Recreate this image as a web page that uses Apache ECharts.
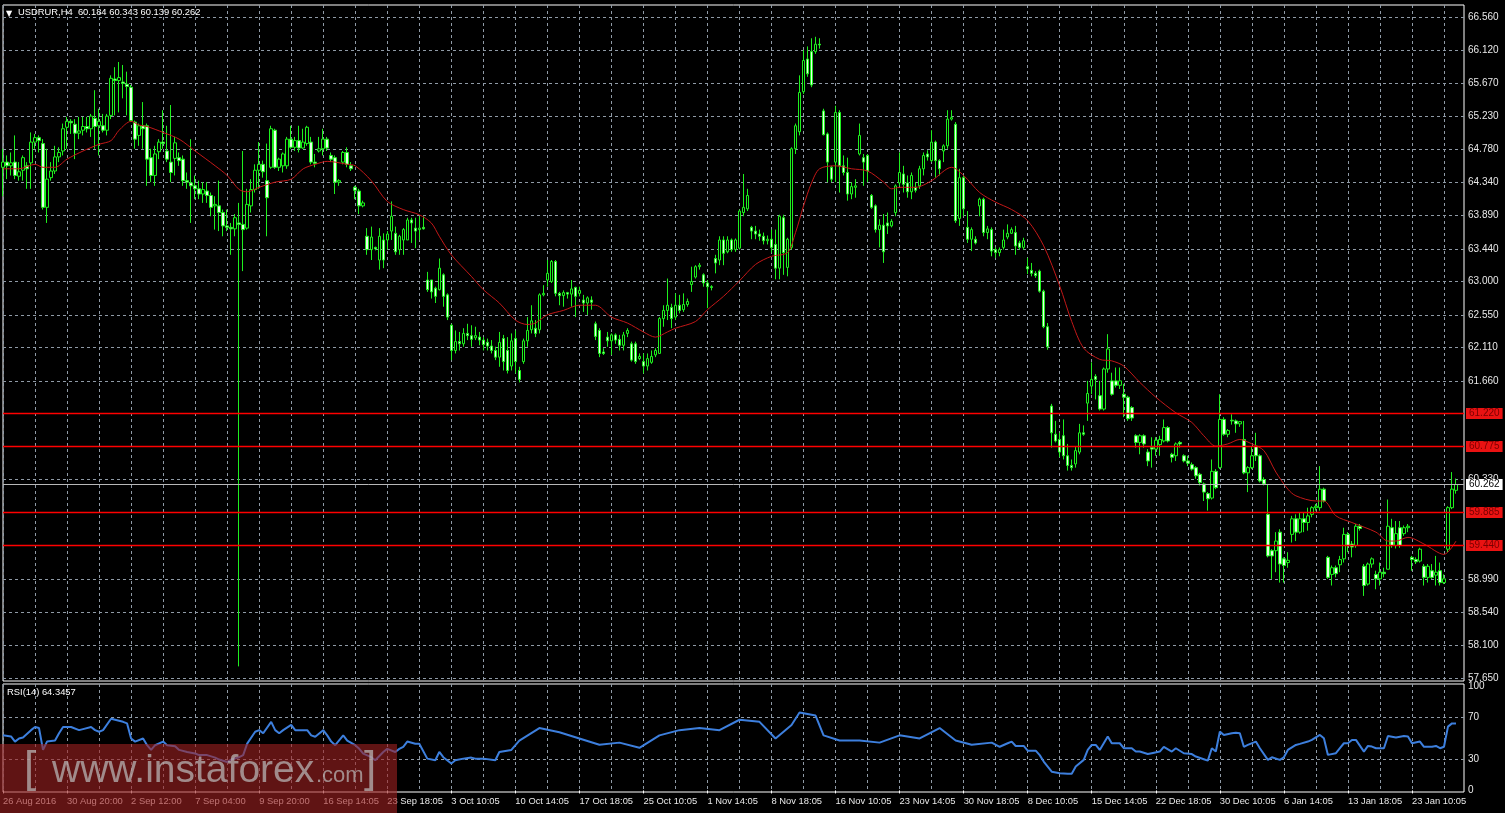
<!DOCTYPE html>
<html><head><meta charset="utf-8">
<script src="https://cdn.jsdelivr.net/npm/echarts@6/dist/echarts.min.js"></script>
<style>html,body{margin:0;padding:0;background:#000;}#c{width:1505px;height:813px;}</style>
</head><body><div id="c"></div>
<script>
const headerText = 'USDRUR,H4  60.184 60.343 60.139 60.262';
const rsiTitle = 'RSI(14) 64.3457';
// candles: [open, close, low, high]
const candles = [
[64.54,64.61,64.15,64.79],[64.61,64.56,64.38,64.70],[64.56,64.60,64.43,64.74],[64.61,64.43,64.38,64.97],[64.42,64.48,64.36,64.61],[64.50,64.67,64.36,64.70],[64.56,64.52,64.25,64.61],[64.60,64.88,64.25,65.01],
[64.88,64.94,64.79,64.99],[64.94,64.90,64.74,64.97],[64.86,64.00,63.97,64.92],[64.00,64.38,63.79,64.79],[64.40,64.49,64.36,64.61],[64.49,64.68,64.45,64.83],[64.68,64.74,64.61,64.81],[64.76,65.06,64.70,65.13],
[65.08,65.16,64.79,65.22],[65.16,65.14,64.99,65.19],[65.12,65.00,64.65,65.19],[65.00,65.03,64.92,65.22],[65.04,65.09,64.97,65.22],[65.09,65.06,65.01,65.22],[65.06,65.23,64.95,65.26],[65.20,65.09,64.79,65.58],
[65.10,65.16,64.70,65.33],[65.10,65.04,65.01,65.26],[65.04,65.23,64.97,65.26],[65.24,65.74,65.19,65.78],[65.73,65.71,65.24,65.89],[65.71,65.75,65.28,65.96],[65.69,65.67,65.47,65.92],[65.66,65.63,65.24,65.83],
[65.62,65.17,65.15,65.65],[65.15,64.92,64.79,65.17],[64.97,65.10,64.83,65.13],[65.10,65.06,64.79,65.42],[65.10,64.65,64.29,65.13],[64.67,64.43,64.34,64.79],[64.43,64.72,64.29,64.83],[64.75,64.88,64.65,64.92],
[64.88,64.86,64.79,65.31],[64.76,64.65,64.61,65.10],[64.61,64.47,64.34,65.38],[64.66,64.87,64.43,64.95],[64.67,64.63,64.56,64.74],[64.65,64.36,64.29,64.70],[64.36,64.34,64.25,64.47],[64.33,64.29,63.79,64.92],
[64.29,64.25,64.11,64.43],[64.25,64.18,64.11,64.36],[64.18,64.24,64.06,64.34],[64.22,64.16,64.06,64.34],[64.16,64.00,63.88,64.20],[64.02,64.04,63.70,64.15],[64.02,63.93,63.68,64.36],[63.93,63.75,63.61,63.97],
[63.75,63.73,63.68,63.97],[63.73,63.71,63.36,63.79],[63.71,63.86,63.61,63.91],[63.79,63.77,57.81,64.06],[63.77,63.70,63.14,64.76],[63.72,64.04,63.70,64.25],[64.02,64.24,63.93,64.38],[64.24,64.50,64.20,64.58],
[64.50,64.58,64.25,64.88],[64.58,64.48,64.40,64.63],[64.36,64.13,63.61,64.86],[64.54,65.06,64.52,65.10],[65.04,64.54,64.52,65.06],[64.54,64.65,64.49,64.67],[64.56,64.72,64.47,64.74],[64.56,64.92,64.52,64.95],
[64.92,64.81,64.79,65.10],[64.81,64.90,64.76,64.95],[64.90,64.80,64.74,65.10],[64.80,64.88,64.79,65.06],[64.86,65.08,64.83,65.10],[64.88,64.61,64.58,64.95],[64.61,64.59,64.54,64.72],[64.76,64.79,64.74,64.95],
[64.79,64.92,64.70,65.06],[64.92,64.80,64.76,64.95],[64.70,64.65,64.61,64.74],[64.67,64.34,64.18,64.70],[64.34,64.36,64.29,64.38],[64.61,64.74,64.58,64.76],[64.74,64.58,64.54,64.81],[64.56,64.52,64.49,64.61],
[64.27,64.23,64.11,64.29],[64.22,64.02,63.91,64.25],[64.02,64.06,64.00,64.09],[63.61,63.43,63.36,63.72],[63.43,63.60,63.29,63.74],[63.46,63.44,63.42,63.47],[63.29,63.61,63.16,63.72],[63.56,63.29,63.18,63.65],
[63.56,63.64,63.43,63.68],[63.68,63.88,63.56,64.08],[63.65,63.40,63.36,63.74],[63.43,63.61,63.36,63.63],[63.56,63.70,63.36,63.72],[63.56,63.83,63.56,63.86],[63.83,63.79,63.52,63.86],[63.72,63.68,63.45,63.86],
[63.70,63.72,63.56,63.88],[63.73,63.71,63.70,63.88],[63.02,62.89,62.86,63.13],[63.02,62.86,62.77,63.02],[62.91,62.80,62.71,62.93],[62.89,63.18,62.88,63.31],[63.09,62.80,62.66,63.11],[62.82,62.52,62.48,62.84],
[62.41,62.07,61.94,62.43],[62.07,62.19,62.03,62.34],[62.19,62.16,62.07,62.32],[62.16,62.30,62.12,62.37],[62.30,62.27,62.21,62.43],[62.27,62.22,62.12,62.41],[62.24,62.27,62.21,62.39],[62.25,62.21,62.14,62.32],
[62.21,62.15,62.07,62.25],[62.18,62.13,62.07,62.23],[62.13,62.07,62.03,62.21],[62.07,61.98,61.94,62.12],[61.98,62.18,61.85,62.32],[62.23,61.92,61.80,62.28],[62.07,61.80,61.76,62.25],[61.86,62.20,61.80,62.30],
[62.23,61.92,61.76,62.34],[61.80,61.68,61.64,61.85],[61.92,62.20,61.89,62.23],[62.20,62.34,62.12,62.52],[62.35,62.47,62.30,62.68],[62.37,62.30,62.25,62.48],[62.35,62.82,62.30,62.84],[62.82,62.84,62.80,62.95],
[63.02,63.11,62.93,63.29],[63.00,63.27,62.98,63.29],[63.27,62.84,62.80,63.29],[62.84,62.81,62.68,62.86],[62.81,62.85,62.66,62.88],[62.85,62.83,62.77,62.86],[62.83,62.90,62.66,63.02],[62.92,62.80,62.52,62.93],
[62.84,62.88,62.80,62.93],[62.75,62.71,62.59,62.82],[62.71,62.78,62.55,62.80],[62.75,62.72,62.62,62.80],[62.43,62.26,62.21,62.46],[62.34,62.03,61.98,62.37],[62.05,62.03,62.01,62.10],[62.25,62.20,62.12,62.32],
[62.20,62.28,62.01,62.30],[62.28,62.21,62.16,62.30],[62.22,62.14,62.07,62.28],[62.14,62.28,62.07,62.32],[62.30,62.34,62.25,62.37],[62.16,61.94,61.92,62.19],[62.16,61.92,61.89,62.19],[61.96,61.99,61.94,62.03],
[61.92,61.86,61.76,62.03],[61.86,61.96,61.80,62.03],[61.91,61.99,61.89,62.07],[62.01,62.07,61.98,62.10],[62.03,62.50,62.03,62.52],[62.50,62.61,62.39,62.68],[62.61,62.68,62.48,63.04],[62.65,62.50,62.37,62.70],
[62.52,62.68,62.48,62.84],[62.68,62.61,62.57,62.82],[62.62,62.69,62.59,62.84],[62.69,62.73,62.66,62.77],[62.96,63.00,62.86,63.20],[63.06,63.20,63.04,63.22],[63.20,63.22,63.16,63.25],[63.09,62.98,62.93,63.11],
[62.98,62.93,62.64,63.02],[62.93,62.92,62.88,62.95],[63.31,63.25,63.11,63.36],[63.29,63.56,63.22,63.61],[63.56,63.38,63.22,63.61],[63.40,63.56,63.38,63.61],[63.56,63.43,63.40,63.58],[63.43,63.56,63.40,63.58],
[63.45,63.95,63.43,63.97],[63.93,64.00,63.88,64.45],[63.98,64.16,63.95,64.25],[63.73,63.68,63.57,63.75],[63.68,63.64,63.57,63.75],[63.64,63.61,63.55,63.70],[63.61,63.55,63.50,63.66],[63.55,63.57,63.50,63.62],
[63.57,63.46,63.39,63.70],[63.50,63.18,63.03,63.70],[63.18,63.88,63.03,63.90],[63.86,63.39,63.09,63.90],[63.19,63.57,63.07,63.59],[63.46,64.79,63.43,64.81],[64.79,65.10,64.72,65.13],[65.02,65.55,64.97,65.78],
[65.56,65.98,65.53,66.12],[66.00,65.80,65.76,66.17],[66.10,65.65,65.62,66.28],[66.10,66.20,66.07,66.30],[66.20,66.19,66.14,66.28],[65.30,64.98,64.97,65.33],[64.99,64.61,64.34,65.01],[64.54,64.38,64.34,64.56],
[64.61,65.28,64.34,65.37],[65.28,64.56,64.20,65.31],[64.56,64.47,64.43,64.70],[64.47,64.18,64.09,64.67],[64.18,64.28,64.11,64.34],[64.27,64.29,64.13,64.38],[64.72,64.97,64.70,65.13],[64.67,64.61,64.29,64.72],
[64.70,64.49,64.34,64.72],[64.16,64.00,63.98,64.18],[64.02,63.70,63.66,64.04],[63.70,63.76,63.46,63.84],[63.76,63.40,63.25,63.91],[63.79,63.75,63.64,63.93],[63.75,63.81,63.73,63.84],[63.93,64.29,63.88,64.31],
[64.33,64.47,64.29,64.74],[64.45,64.31,64.20,64.56],[64.33,64.21,64.13,64.43],[64.21,64.43,64.11,64.47],[64.27,64.23,64.20,64.34],[64.29,64.52,64.25,64.56],[64.52,64.70,64.43,64.74],[64.72,64.68,64.63,64.77],
[64.63,64.88,64.61,65.04],[64.88,64.63,64.40,64.90],[64.63,64.52,64.43,64.65],[64.76,64.83,64.61,64.85],[64.83,65.19,64.79,65.31],[65.19,65.21,65.17,65.31],[65.12,63.82,63.79,65.15],[63.85,64.40,63.75,64.52],
[64.40,63.98,63.88,64.43],[63.73,63.57,63.52,63.95],[63.57,63.70,63.41,63.73],[63.57,63.52,63.50,63.61],[64.02,64.11,63.88,64.13],[64.11,63.66,63.61,64.13],[63.66,63.71,63.57,63.75],[63.70,63.41,63.34,63.73],
[63.43,63.39,63.32,63.46],[63.39,63.43,63.34,63.46],[63.46,63.56,63.43,63.70],[63.60,63.65,63.57,63.77],[63.65,63.70,63.64,63.73],[63.66,63.48,63.36,63.75],[63.52,63.46,63.43,63.55],[63.46,63.55,63.43,63.59],
[63.20,63.17,63.10,63.32],[63.15,63.11,63.07,63.25],[63.11,63.08,63.05,63.14],[63.14,62.87,62.85,63.16],[62.87,62.39,62.37,62.89],[62.39,62.12,62.08,62.44],[61.32,60.96,60.76,61.35],[60.94,60.85,60.83,61.12],
[60.87,60.70,60.63,60.96],[60.92,60.65,60.60,61.14],[60.65,60.52,60.45,60.81],[60.52,60.49,60.45,60.60],[60.54,60.72,60.49,60.78],[60.70,60.96,60.67,61.08],[60.96,60.94,60.92,61.06],[61.36,61.49,61.12,61.66],
[61.59,61.68,61.48,61.91],[61.72,61.68,61.41,61.75],[61.46,61.28,61.26,61.66],[61.28,61.82,61.26,61.84],[61.82,62.09,61.77,62.29],[61.66,61.48,61.46,61.77],[61.66,61.60,61.57,61.84],[61.60,61.66,61.55,61.84],
[61.48,61.44,61.17,61.62],[61.44,61.15,61.12,61.46],[61.30,61.16,61.12,61.32],[60.92,60.83,60.76,60.94],[60.83,60.92,60.67,60.94],[60.92,60.81,60.76,60.94],[60.70,60.58,60.51,60.74],[60.76,60.74,60.49,60.90],
[60.74,60.86,60.65,60.90],[60.80,60.87,60.65,60.92],[60.85,61.03,60.83,61.14],[61.03,60.85,60.83,61.05],[60.67,60.63,60.56,60.69],[60.65,60.81,60.58,60.83],[60.83,60.81,60.76,60.85],[60.65,60.58,60.56,60.67],
[60.58,60.55,60.51,60.65],[60.53,60.47,60.45,60.56],[60.49,60.38,60.34,60.51],[60.40,60.29,60.25,60.42],[60.27,60.16,60.04,60.29],[60.14,60.07,59.91,60.16],[60.08,60.44,60.06,60.60],[60.44,60.22,60.20,60.47],
[60.49,61.14,60.47,61.48],[61.14,60.94,60.92,61.17],[60.94,60.99,60.90,61.01],[61.13,61.12,61.07,61.21],[61.12,61.08,60.96,61.14],[61.08,61.11,61.04,61.12],[60.87,60.42,60.40,61.12],[60.42,60.49,60.16,60.51],
[60.49,60.65,60.47,60.78],[60.78,60.65,60.58,60.96],[60.65,60.31,60.29,60.67],[60.33,60.27,60.25,60.36],[59.86,59.30,59.28,60.27],[59.37,59.30,58.99,59.39],[59.37,59.50,59.08,59.62],[59.62,59.19,58.94,59.66],
[59.26,59.17,58.94,59.28],[59.21,59.24,59.14,59.35],[59.59,59.80,59.48,59.84],[59.80,59.62,59.50,59.86],[59.62,59.80,59.60,59.89],[59.80,59.75,59.62,59.89],[59.75,59.84,59.64,59.95],[59.86,59.95,59.82,59.97],
[59.95,59.97,59.91,60.00],[59.95,60.20,59.91,60.51],[60.20,60.04,60.02,60.22],[59.28,59.01,58.99,59.30],[59.05,59.14,58.90,59.17],[59.14,59.06,59.01,59.17],[59.18,59.25,59.08,59.30],[59.26,59.59,59.21,59.68],
[59.59,59.44,59.35,59.62],[59.46,59.42,59.28,59.50],[59.44,59.70,59.41,59.73],[59.70,59.67,59.64,59.73],[59.16,58.90,58.76,59.19],[58.92,59.19,58.90,59.21],[59.19,59.26,59.14,59.28],[59.05,58.99,58.85,59.10],
[58.99,59.08,58.90,59.21],[59.08,59.06,59.01,59.14],[59.12,59.70,59.12,60.06],[59.68,59.44,59.41,59.80],[59.44,59.60,59.40,59.77],[59.68,59.44,59.41,59.77],[59.60,59.68,59.57,59.71],[59.68,59.70,59.62,59.73],
[59.28,59.25,59.10,59.30],[59.25,59.22,59.19,59.28],[59.23,59.39,59.21,59.41],[59.16,59.01,58.90,59.19],[59.01,59.16,58.94,59.19],[59.10,59.01,58.99,59.19],[59.04,59.08,58.90,59.30],[59.10,58.94,58.90,59.21],
[58.94,58.99,58.92,59.05],[59.39,59.95,59.35,59.97],[59.95,60.20,59.93,60.43],[60.184,60.262,60.139,60.343]
];
// moving average, read at these bar positions
const maBars = [0,4,8,10,13,16,20,24,27,29,32,34,36,40,44,48,53,56,59,61,64,68,72,75,78,81,83,86,88,92,96,100,104,107,109,112,117,120,124,128,131,133,136,140,144,148,152,156,160,163,166,168,173,176,180,184,188,192,196,198,200,202,204,208,212,216,220,222,224,228,232,237,240,244,248,252,256,260,264,267,270,274,277,280,284,288,293,297,300,303,306,309,312,315,318,321,323,328,330,333,337,343,346,348,351,355,360,363];
const maVals = [64.52,64.52,64.58,64.54,64.54,64.65,64.76,64.85,64.90,65.04,65.16,65.11,65.09,65.01,64.92,64.76,64.56,64.43,64.24,64.21,64.27,64.34,64.38,64.52,64.58,64.62,64.61,64.58,64.56,64.36,64.08,63.97,63.90,63.79,63.61,63.36,63.07,62.89,62.71,62.48,62.42,62.44,62.55,62.61,62.68,62.68,62.52,62.44,62.32,62.25,62.32,62.37,62.46,62.62,62.80,63.01,63.23,63.34,63.39,63.66,64.02,64.33,64.52,64.56,64.52,64.49,64.34,64.25,64.27,64.27,64.36,64.54,64.43,64.20,64.07,63.97,63.82,63.48,62.94,62.46,62.10,61.95,61.93,61.86,61.64,61.44,61.23,61.10,60.92,60.78,60.81,60.87,60.81,60.72,60.43,60.20,60.11,60.04,60.04,59.84,59.75,59.62,59.50,59.50,59.55,59.46,59.32,59.50];
// RSI(14), read at these bar positions
const rsiBars = [0,2,3,4,5,7,8,9,10,11,13,14,15,17,19,20,22,23,24,25,27,28,30,31,32,33,35,36,37,38,40,41,43,44,46,48,49,51,53,54,56,57,59,60,61,63,64,65,67,68,69,70,72,73,75,76,77,78,80,81,82,83,85,86,88,89,90,92,93,95,96,98,99,100,101,103,104,106,108,109,110,112,113,115,117,118,120,123,124,127,129,134,139,144,149,154,159,164,169,174,179,184,189,193,197,199,203,205,209,214,219,224,229,234,238,242,247,249,251,252,253,255,256,258,259,260,262,264,266,267,268,270,271,272,273,274,276,277,279,280,282,283,284,286,287,289,290,292,293,295,297,298,300,301,302,303,304,305,307,308,309,310,311,313,314,316,317,319,320,321,323,324,326,327,329,330,331,333,334,335,336,337,338,340,341,342,343,345,346,348,350,351,352,354,355,357,358,359,360,361,362,363];
const rsiVals = [53,52,47,50,51,58,61,60,39,47,48,55,61,61,58,59,61,58,56.5,58,69,68,66,64.5,50,47,50,43.5,39,43.5,47,43.5,42.6,39,37,35.5,34,34,31.6,29.7,27.4,29.7,32,34,45,56.5,58,55,66,58,55,58,63,58,58,58,53,51.6,58,53,47,43.5,53,48,43.5,40,35.5,32,29,37,40,37,40,42,47,45,45,30.6,29,37,32,26,29,30.6,31.6,30.6,30.6,29,37,39,48,60,56,50,44,46,41,53,58,60,58,68,66,50,63,75,72,53,48,48,46,53,50,60,48,44,46,42,45.4,47,42.8,42.8,38.3,38.3,34,27.8,18,16.6,16,16,23,29.4,39,43.8,43.8,39,51.8,45.4,45.4,40.6,40.6,37.4,37.4,35,35.8,37.4,42,37.4,40.6,35.8,35,32.6,30,28.7,40.6,37.4,56.6,53.4,55,55.6,55,42,43.8,47,40.6,29.4,31.9,29.4,31.9,39,43.8,44.8,47,48.6,53.4,50.2,34.2,35.8,40.6,45.4,45.4,48.6,48.6,37.4,42.8,42.2,40.6,40.6,52.4,51,52.4,51.8,45.4,47,42,42,42.8,40.6,42,61.4,64.5,64.35];
const priceTicks = [57.650,58.100,58.540,58.990,59.440,59.885,60.330,60.775,61.220,61.660,62.110,62.550,63.000,63.440,63.890,64.340,64.780,65.230,65.670,66.120,66.560];
const rsiTicks = [0,30,70,100];
const rsiLevels = [30,70];
const levelLines = [61.220,60.775,59.885,59.440];
const bidPrice = 60.262;
const xTickLabels = ['26 Aug 2016','30 Aug 20:00','2 Sep 12:00','7 Sep 04:00','9 Sep 20:00','16 Sep 14:05','23 Sep 18:05','3 Oct 10:05','10 Oct 14:05','17 Oct 18:05','25 Oct 10:05','1 Nov 14:05','8 Nov 18:05','16 Nov 10:05','23 Nov 14:05','30 Nov 18:05','8 Dec 10:05','15 Dec 14:05','22 Dec 18:05','30 Dec 10:05','6 Jan 14:05','13 Jan 18:05','23 Jan 10:05'];
const SLOTS = 366;
const categories = Array.from({length: SLOTS}, (_, i) => String(i));
// price-scale ticks not hidden under a red level line (those show their value in the red box instead)
const gridTicks = priceTicks.filter((v) => !levelLines.includes(v));

const FONT = 'Liberation Sans';
const GRIDC = '#8f9aa6';
const chart = echarts.init(document.getElementById('c'), null, {renderer: 'canvas'});
const vSplit = {show: true, interval: (i) => i % 8 === 0, lineStyle: {color: GRIDC, width: 1, type: [3, 3]}};
const redLabel = {show: true, position: 'end', distance: 2, backgroundColor: '#ea1212', color: '#7a0000', padding: [1, 3, 0, 3], fontSize: 10, fontFamily: FONT, formatter: (p) => Number(p.value).toFixed(3)};
chart.setOption({
  backgroundColor: '#000',
  animation: false,
  textStyle: {fontFamily: FONT},
  grid: [
    {left: 3, top: 5, width: 1461, height: 676, show: true, borderColor: '#ffffff', borderWidth: 1, backgroundColor: 'transparent'},
    {left: 3, top: 684, width: 1461, height: 108, show: true, borderColor: '#ffffff', borderWidth: 1, backgroundColor: 'transparent'}
  ],
  xAxis: [
    {type: 'category', gridIndex: 0, data: categories, boundaryGap: false, axisLine: {show: false}, axisTick: {show: false}, axisLabel: {show: false}, splitLine: vSplit},
    {type: 'category', gridIndex: 1, data: categories, boundaryGap: false, axisLine: {show: false},
     axisTick: {show: true, interval: (i) => i % 16 === 0, length: 3, lineStyle: {color: '#ffffff'}},
     axisLabel: {show: true, interval: (i) => i % 16 === 0, formatter: (v, i) => xTickLabels[Math.round(i / 16)] || '', align: 'left', color: '#e8e8e8', fontSize: 9.4, margin: 5},
     splitLine: vSplit}
  ],
  yAxis: [
    {type: 'value', gridIndex: 0, position: 'right', min: 57.6128, max: 66.7287, scale: true, axisLine: {show: false},
     axisTick: {show: false, customValues: gridTicks},
     axisLabel: {customValues: gridTicks, formatter: (v) => v.toFixed(3), color: '#e8e8e8', fontSize: 10, margin: 4},
     splitLine: {show: true, lineStyle: {color: GRIDC, width: 1, type: [3, 3]}}},
    {type: 'value', gridIndex: 1, position: 'right', min: -1.5, max: 102.4, axisLine: {show: false},
     axisTick: {show: false, customValues: rsiLevels},
     axisLabel: {customValues: rsiTicks, formatter: (v) => String(v), color: '#e8e8e8', fontSize: 10, margin: 4},
     splitLine: {show: true, lineStyle: {color: GRIDC, width: 1, type: [3, 3]}}}
  ],
  series: [
    {type: 'candlestick', xAxisIndex: 0, yAxisIndex: 0, data: candles, barWidth: 3,
     itemStyle: {color: '#000000', color0: '#e8ffe8', borderColor: '#1ef01e', borderColor0: '#1ef01e', borderWidth: 1},
     markLine: {silent: true, symbol: ['none', 'none'], animation: false, precision: 3,
       lineStyle: {color: '#ff0000', width: 1.3, type: 'solid', opacity: 1},
       label: redLabel,
       data: levelLines.map((v) => ({yAxis: v}))}},
    {type: 'line', xAxisIndex: 0, yAxisIndex: 0, data: maBars.map((b, k) => [b, maVals[k]]), showSymbol: false, smooth: 0.3,
     lineStyle: {color: '#c41818', width: 1}, z: 3,
     markLine: {silent: true, symbol: ['none', 'none'], animation: false, precision: 3,
       lineStyle: {color: '#b8b8b8', width: 1, type: 'solid', opacity: 1},
       label: {show: true, position: 'end', distance: 2, backgroundColor: '#ffffff', color: '#000000', padding: [1, 3, 0, 3], fontSize: 10, fontFamily: FONT, formatter: (p) => Number(p.value).toFixed(3)},
       data: [{yAxis: bidPrice}]}},
    {type: 'line', xAxisIndex: 1, yAxisIndex: 1, data: rsiBars.map((b, k) => [b, rsiVals[k]]), showSymbol: false,
     lineStyle: {color: '#3d7fdd', width: 2}}
  ],
  graphic: [
    {type: 'text', left: 6, top: 10, style: {text: '▼', fill: '#ffffff', font: '8px "DejaVu Sans"'}},
    {type: 'text', left: 18, top: 8, style: {text: headerText, fill: '#ffffff', font: '9.4px "Liberation Sans"'}},
    {type: 'text', left: 7, top: 688, style: {text: rsiTitle, fill: '#ffffff', font: '9.4px "Liberation Sans"'}},
    {type: 'rect', left: 0, top: 744, shape: {width: 397, height: 69}, style: {fill: 'rgba(160,34,34,0.6)'}, z: 100},
    {type: 'text', left: 24, top: 748, z: 101, style: {text: '[', fill: 'rgba(190,190,190,0.7)', font: '300 44px "Liberation Sans"'}},
    {type: 'text', left: 52, top: 752, z: 101, style: {text: 'www.instaforex', fill: 'rgba(190,190,190,0.7)', font: '39px "Liberation Sans"'}},
    {type: 'text', left: 316, top: 765, z: 101, style: {text: '.com', fill: 'rgba(190,190,190,0.7)', font: '22px "Liberation Sans"'}},
    {type: 'text', left: 364, top: 748, z: 101, style: {text: ']', fill: 'rgba(190,190,190,0.7)', font: '300 44px "Liberation Sans"'}}
  ]
});
</script></body></html>
